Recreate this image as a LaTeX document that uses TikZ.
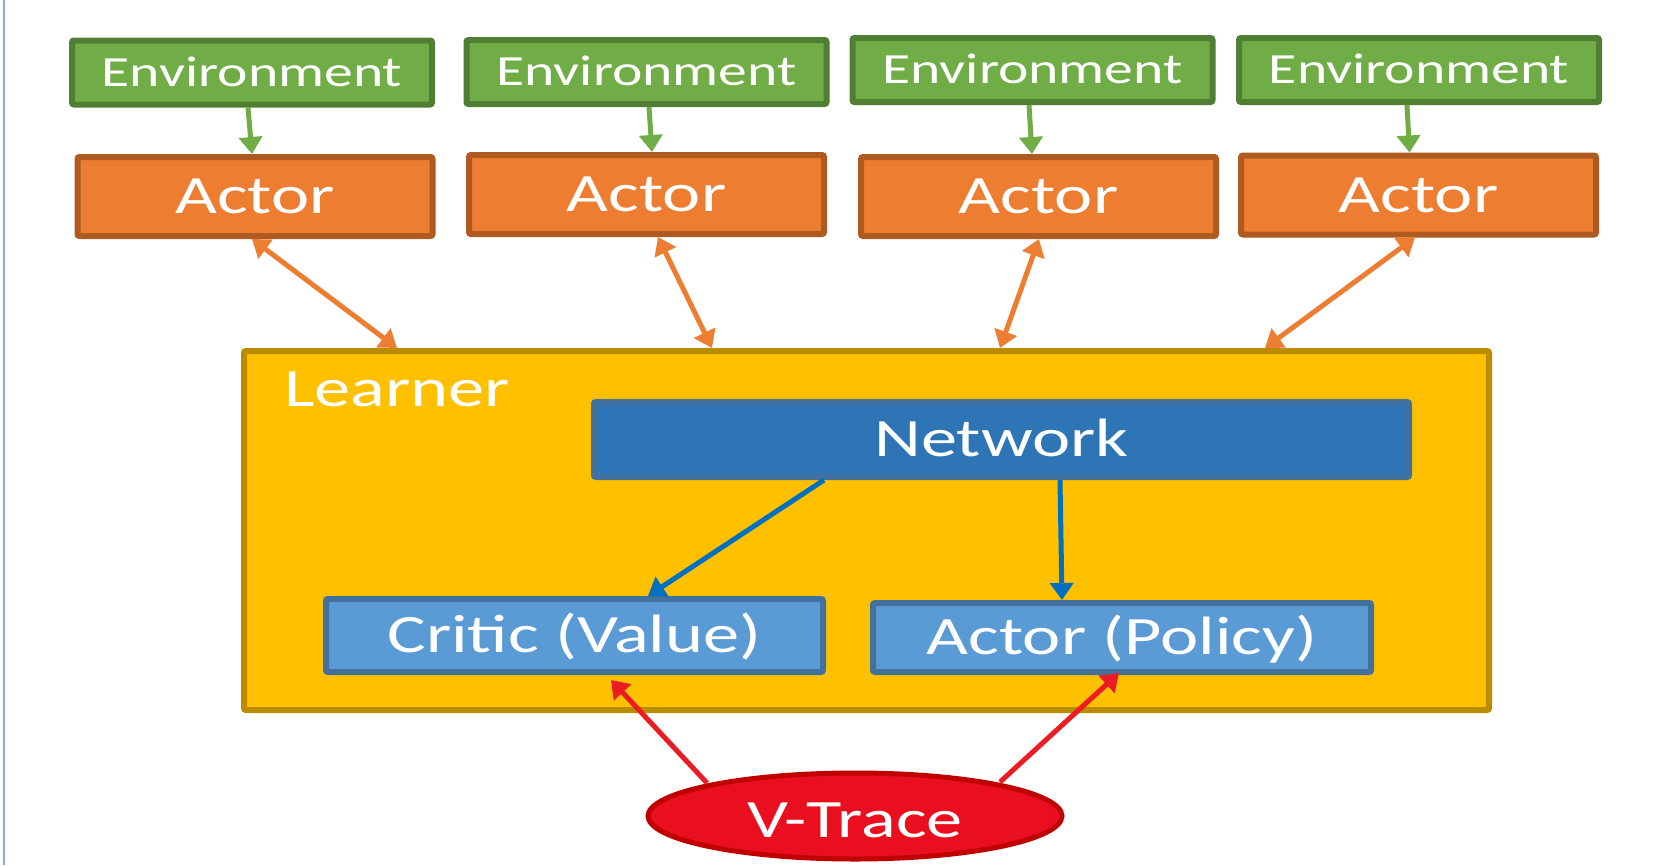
\documentclass[tikz,border=0pt]{standalone}
\usepackage{fontspec}
\setmainfont{Carlito}[FakeStretch=1.34]
\usetikzlibrary{arrows.meta,shapes.geometric,calc}
\definecolor{envfill}{HTML}{70AD47}
\definecolor{envdraw}{HTML}{507E32}
\definecolor{actfill}{HTML}{ED7D31}
\definecolor{actdraw}{HTML}{AE5A21}
\definecolor{lrnfill}{HTML}{FFC000}
\definecolor{lrndraw}{HTML}{BC8C00}
\definecolor{netfill}{HTML}{2E75B6}
\definecolor{bluedraw}{HTML}{41719C}
\definecolor{subfill}{HTML}{5B9BD5}
\definecolor{vtfill}{HTML}{EA0F1E}
\definecolor{vtdraw}{HTML}{C00000}
\definecolor{bluearr}{HTML}{0070C0}
\definecolor{redarr}{HTML}{EC1C24}
\definecolor{leftln}{HTML}{8FAADC}
\tikzset{
  box/.style={draw, line width=6pt, rounded corners=2pt, text=white, inner sep=0pt},
  bigtext/.style={font=\fontsize{54}{60}\selectfont, text height=34pt, text depth=0pt},
  envbox/.style={box, fill=envfill, draw=envdraw, minimum width=360pt, minimum height=64pt,
    font=\fontsize{43}{48}\selectfont, text height=27pt, text depth=0pt},
  actbox/.style={box, bigtext, fill=actfill, draw=actdraw, minimum width=355pt, minimum height=79pt},
  lrnbox/.style={box, fill=lrnfill, draw=lrndraw, minimum width=1245pt, minimum height=359pt},
  netbox/.style={box, bigtext, fill=netfill, draw=bluedraw, minimum width=815pt, minimum height=75pt},
  subbox/.style={box, bigtext, fill=subfill, draw=bluedraw},
  vtbox/.style={ellipse, draw=vtdraw, fill=vtfill, line width=5pt, text=white, inner sep=0pt,
    minimum width=414pt, minimum height=86pt, bigtext, text height=42pt},
  tipA/.tip={Triangle[length=17pt,width=23pt]},
  garrow/.style={draw=envfill, line width=5pt, -tipA},
  oarrow/.style={draw=actfill, line width=5pt, tipA-tipA},
  barrow/.style={draw=bluearr, line width=5pt, -tipA},
  rarrow/.style={draw=redarr, line width=5pt, -tipA},
}
\begin{document}
\begin{tikzpicture}[x=1pt,y=-1pt]
\fill[white] (0,0) rectangle (1668,865);
\useasboundingbox (0,0) rectangle (1668,865);
\draw[leftln, line width=2pt] (4,0) -- (4,865);

% environments
\node[envbox] (e1) at (252,72.5) {Environment};
\node[envbox] (e2) at (646.5,72) {Environment};
\node[envbox] (e3) at (1032.5,70) {Environment};
\node[envbox] (e4) at (1419,70) {Environment};

% actors
\node[actbox] (a1) at (255,196.5) {Actor};
\node[actbox] (a2) at (646.5,194.5) {Actor};
\node[actbox] (a3) at (1038.5,196.5) {Actor};
\node[actbox] (a4) at (1418.5,195) {Actor};

% learner
\node[lrnbox] (L) at (866.5,530.5) {};
\node[anchor=base west, text=white, font=\fontsize{54}{60}\selectfont, inner sep=0pt] (lt) at (284,406) {Learner};
\node[netbox] (net) at (1001.5,439.5) {Network};
\node[subbox, minimum width=497pt, minimum height=73pt] (cr) at (574.5,635.5) {Critic (Value)};
\node[subbox, minimum width=498pt, minimum height=69pt] (po) at (1122,637.5) {Actor (Policy)};

% v-trace
\node[vtbox] (vt) at (855,816) {V-Trace};

% green arrows
\draw[garrow] ([xshift=-4pt]e1.south) -- ([xshift=-3pt]a1.north);
\draw[garrow] ([xshift=2.5pt]e2.south) -- ([xshift=5.5pt]a2.north);
\draw[garrow] ([xshift=-3.5pt]e3.south) -- ([xshift=-6.5pt]a3.north);
\draw[garrow] ([xshift=-12pt]e4.south) -- ([xshift=-9pt]a4.north);

% orange arrows
\draw[oarrow] ([xshift=-3pt]a1.south) -- ([xshift=156pt]L.north west);
\draw[oarrow] ([xshift=11.5pt]a2.south) -- ([xshift=471pt]L.north west);
\draw[oarrow] ([xshift=0.5pt]a3.south) -- ([xshift=759pt]L.north west);
\draw[oarrow] ([xshift=-3.5pt]a4.south) -- ([xshift=1024pt]L.north west);

% blue arrows
\draw[barrow] ([xshift=233pt]net.south west) -- ([xshift=73.5pt]cr.north);
\draw[barrow] ([xshift=58.5pt]net.south) -- ([xshift=-60pt]po.north);

% red arrows
\draw[rarrow] ($(vt.center)+(-148,-33)$) -- ([xshift=36.5pt,yshift=-5pt]cr.south);
\draw[rarrow] ($(vt.center)+(145,-34)$) -- ([xshift=-3pt,yshift=2pt]po.south);
\end{tikzpicture}
\end{document}
